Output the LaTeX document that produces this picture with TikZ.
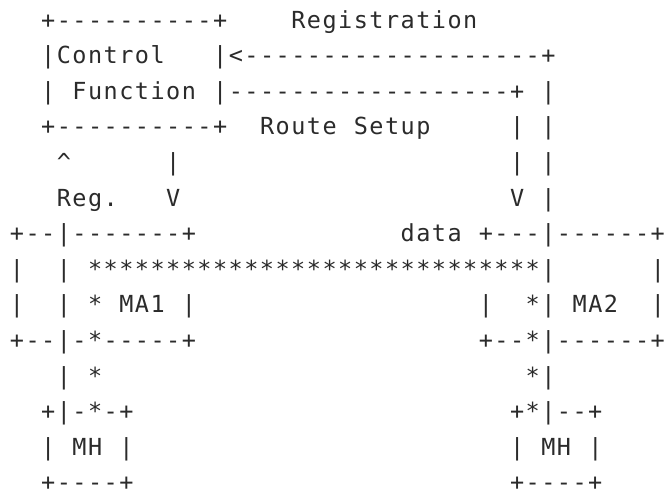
\documentclass[tikz,border=0pt]{standalone}
\usepackage{fontspec}
\newfontfamily\asciifont{DejaVu Sans Mono}
\definecolor{ink}{HTML}{2B2B2B}
% fixed character cell width of the monospaced grid
\newlength\cw
\setlength\cw{15.63pt}
\makeatletter
% set every character of a run in its own cell of width \cw
\newcommand\cellrun[1]{\cellrun@#1\relax}
\def\cellrun@#1{\ifx#1\relax\else\makebox[\cw]{#1}\expandafter\cellrun@\fi}
\makeatother
\tikzset{
  ascii/.style={inner sep=0pt, outer sep=0pt, anchor=base west, text=ink,
    font=\asciifont\fontsize{23.5}{28}\selectfont}
}
% \glyphs{name}{column}{row}{characters}
\newcommand\glyphs[4]{%
  \node[ascii] (#1) at ({9.2pt+15.63pt*#2},{-28pt-35.6pt*(#3-1)}) {\cellrun{#4}};}

\begin{document}
\begin{tikzpicture}
  \fill[white] (0,0) rectangle (665pt,-493pt);
  \useasboundingbox (0,0) rectangle (665pt,-493pt);

  % control function box and its two links
  \glyphs{cfTop}{2}{1}{+----------+}
  \glyphs{regLabel}{18}{1}{Registration}
  \glyphs{cfRowA}{2}{2}{|Control}
  \glyphs{regArrow}{13}{2}{|<-------------------+}
  \glyphs{cfRowB}{2}{3}{|}
  \glyphs{cfName}{4}{3}{Function}
  \glyphs{setupLine}{13}{3}{|------------------+}
  \glyphs{regUpA}{34}{3}{|}
  \glyphs{cfBottom}{2}{4}{+----------+}
  \glyphs{routeWord}{16}{4}{Route}
  \glyphs{setupWord}{22}{4}{Setup}
  \glyphs{setupDownA}{32}{4}{|}
  \glyphs{regUpB}{34}{4}{|}

  % links down to the mobility agents
  \glyphs{regTip}{3}{5}{\textasciicircum}
  \glyphs{setupLeftA}{10}{5}{|}
  \glyphs{setupDownB}{32}{5}{|}
  \glyphs{regUpC}{34}{5}{|}
  \glyphs{regWord}{3}{6}{Reg.}
  \glyphs{setupLeftTip}{10}{6}{V}
  \glyphs{setupRightTip}{32}{6}{V}
  \glyphs{regUpD}{34}{6}{|}

  % MA1 and MA2 with the data path
  \glyphs{maOneTop}{0}{7}{+--|-------+}
  \glyphs{dataWord}{25}{7}{data}
  \glyphs{maTwoTop}{30}{7}{+---|------+}
  \glyphs{maOneL}{0}{8}{|}
  \glyphs{maOneRegA}{3}{8}{|}
  \glyphs{dataPath}{5}{8}{*****************************|}
  \glyphs{maTwoR}{41}{8}{|}
  \glyphs{maOneLB}{0}{9}{|}
  \glyphs{maOneRegB}{3}{9}{|}
  \glyphs{dataOneA}{5}{9}{*}
  \glyphs{maOneName}{7}{9}{MA1}
  \glyphs{maOneR}{11}{9}{|}
  \glyphs{maTwoL}{30}{9}{|}
  \glyphs{dataTwoA}{33}{9}{*|}
  \glyphs{maTwoName}{36}{9}{MA2}
  \glyphs{maTwoRB}{41}{9}{|}
  \glyphs{maOneBottom}{0}{10}{+--|-*-----+}
  \glyphs{maTwoBottom}{30}{10}{+--*|------+}

  % mobile hosts
  \glyphs{mhOneRegC}{3}{11}{|}
  \glyphs{dataOneB}{5}{11}{*}
  \glyphs{dataTwoB}{33}{11}{*|}
  \glyphs{mhOneTop}{2}{12}{+|-*-+}
  \glyphs{mhTwoTop}{32}{12}{+*|--+}
  \glyphs{mhOneL}{2}{13}{|}
  \glyphs{mhOneName}{4}{13}{MH}
  \glyphs{mhOneR}{7}{13}{|}
  \glyphs{mhTwoL}{32}{13}{|}
  \glyphs{mhTwoName}{34}{13}{MH}
  \glyphs{mhTwoR}{37}{13}{|}
  \glyphs{mhOneBottom}{2}{14}{+----+}
  \glyphs{mhTwoBottom}{32}{14}{+----+}
\end{tikzpicture}
\end{document}
